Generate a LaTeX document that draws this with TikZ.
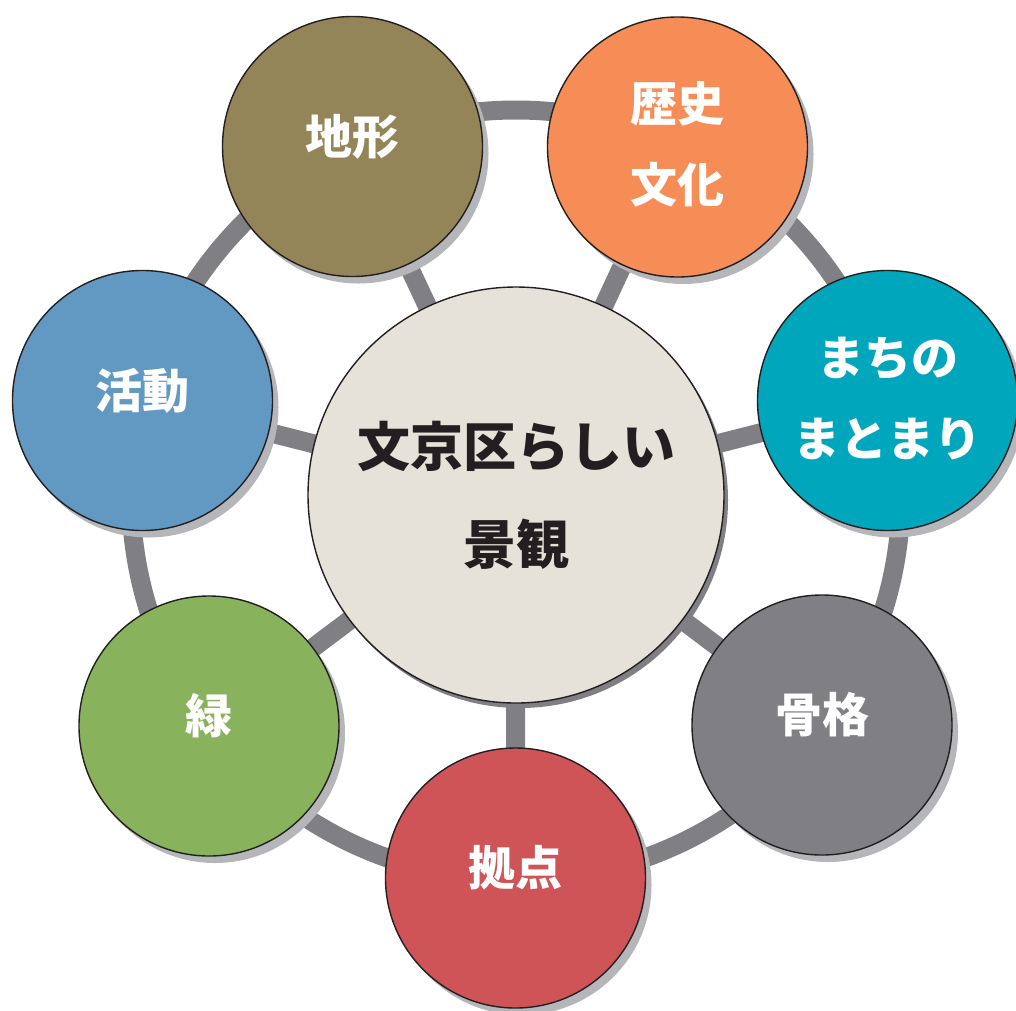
\documentclass[tikz,border=0pt]{standalone}
\usepackage{fontspec}
\newfontfamily\jp{Noto Sans CJK JP}
\usetikzlibrary{shadows}
\definecolor{ringgray}{HTML}{807F84}
\definecolor{shade}{HTML}{B5B6B9}
\definecolor{outline}{HTML}{231F20}
\definecolor{cOlive}{HTML}{948558}
\definecolor{cOrange}{HTML}{F68D56}
\definecolor{cTeal}{HTML}{00A6BB}
\definecolor{cGray}{HTML}{808084}
\definecolor{cRed}{HTML}{CF5457}
\definecolor{cGreen}{HTML}{88B25C}
\definecolor{cBlue}{HTML}{6199C2}
\definecolor{cBeige}{HTML}{E6E2D9}
\pgfdeclarelayer{bg}
\pgfsetlayers{bg,main}
\begin{document}
\begin{tikzpicture}[x=1pt,y=-1pt,
  bub/.style={circle, draw=outline, line width=1.4pt, minimum size=260pt, inner sep=0pt,
    drop shadow={shadow xshift=6pt, shadow yshift=-7pt, fill=shade, opacity=1}},
  hub/.style={circle, draw=outline, line width=1.4pt, minimum size=416pt, inner sep=0pt, fill=cBeige,
    drop shadow={shadow xshift=4pt, shadow yshift=-5pt, fill=ringgray, opacity=1}},
  lbl/.style={text=white, font=\jp\bfseries\fontsize{47}{81}\selectfont, align=center, inner sep=0pt},
  hublbl/.style={text=outline, font=\jp\bfseries\fontsize{53}{98}\selectfont, align=center, inner sep=0pt},
  link/.style={draw=ringgray, line width=19pt}]
\useasboundingbox (0,0) rectangle (1016,1010);

\node[hub, label={[hublbl, name=tctr]center:文京区らしい\\景観}] (ctr) at (516,495) {};
\node[bub, fill=cOlive, label={[lbl, name=t1, yshift=10pt]center:地形}] (chikei) at (352.5,146.5) {};
\node[bub, fill=cOrange, label={[lbl, name=t2, yshift=2.5pt]center:歴史\\文化}] (rekishi) at (677.5,147) {};
\node[bub, fill=cTeal, label={[lbl, name=t3, yshift=2pt]center:まちの\\まとまり}] (machi) at (887.5,400.5) {};
\node[bub, fill=cGray, label={[lbl, name=t4, yshift=10pt]center:骨格}] (kokkaku) at (822,725) {};
\node[bub, fill=cRed, label={[lbl, name=t5, yshift=10pt]center:拠点}] (kyoten) at (515.5,878) {};
\node[bub, fill=cGreen, label={[lbl, name=t6, yshift=10pt]center:緑}] (midori) at (209,726) {};
\node[bub, fill=cBlue, label={[lbl, name=t7, yshift=10pt]center:活動}] (katsudo) at (142.5,400.5) {};

\begin{pgfonlayer}{bg}
  \draw[link] (ctr.center) circle (385);
  \foreach \n in {chikei,rekishi,machi,kokkaku,kyoten,midori,katsudo}
    \draw[link] (ctr.center) -- (\n.center);
\end{pgfonlayer}
\end{tikzpicture}
\end{document}
